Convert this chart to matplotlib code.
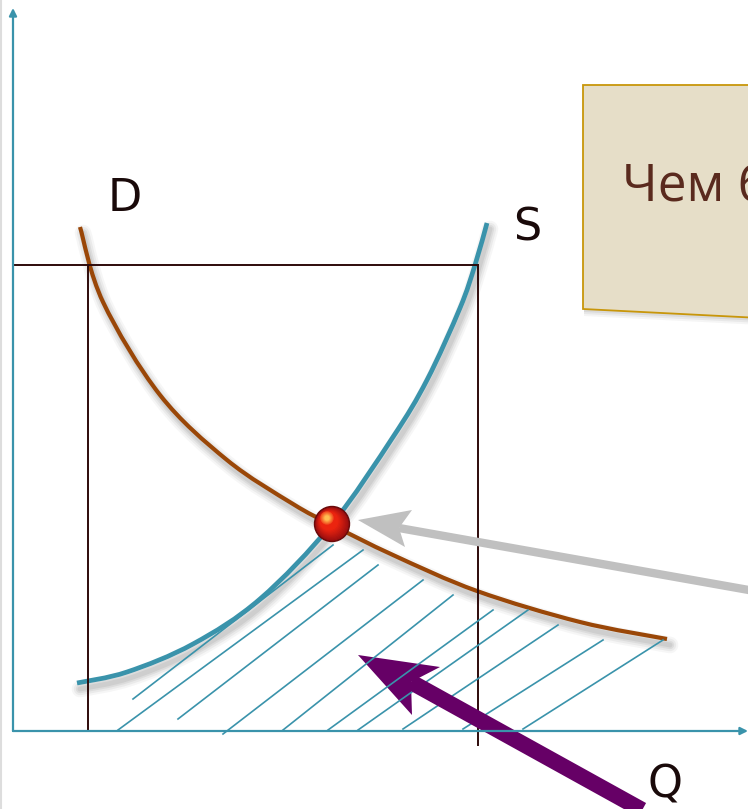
import numpy as np
import matplotlib
matplotlib.use("Agg")
import matplotlib.pyplot as plt
from matplotlib.patches import Polygon, Circle, PathPatch
from matplotlib.path import Path

# Данные (в пикселях, ось y вниз)
d_x = [80, 103, 160, 227, 293, 332, 393, 477, 580, 667]
d_y = [227, 302, 395, 460, 504, 525, 555, 591, 622, 639]

s_x = [77, 127, 193, 260, 332, 393, 427, 460, 475, 487]
s_y = [683, 672, 644, 599, 524, 437, 380, 308, 265, 223]

# штриховка: начало и конец каждой линии
hatch_x0 = [133, 118, 178, 223, 283, 328, 358, 403, 463, 523]
hatch_y0 = [699, 730, 719, 734, 730, 730, 730, 729, 729, 729]
hatch_x1 = [333, 363, 378, 423, 453, 493, 528, 558, 603, 663]
hatch_y1 = [545, 550, 565, 580, 595, 610, 610, 625, 640, 640]

equilibrium = (332, 524)
price_level = 265
q_left = 88
q_right = 478

# стрелки: острие, крыло, выемка, крыло, конец древка
gray_head = [(358, 520), (412, 510), (399, 528), (405, 547)]
gray_tail = (760, 592)
purple_head = [(358, 655), (440, 667), (411, 682), (412, 715)]
purple_tail = (700, 842)

box_x = [583, 760, 760, 583]
box_y = [85, 85, 318, 309]
box_text = "Чем б"

teal = "#3A93AB"
brown = "#9A4708"
dark = "#2E0A0A"

fig = plt.figure(figsize=(7.48, 8.09), dpi=100)
ax = fig.add_axes([0, 0, 1, 1])
ax.set_xlim(0, 748)
ax.set_ylim(809, 0)
ax.axis("off")


# гладкая кривая через точки (Catmull-Rom -> кубические Безье)
def smooth_path(x, y, dx=0, dy=0):
    p = np.column_stack([np.array(x, float) + dx, np.array(y, float) + dy])
    verts = [p[0]]
    codes = [Path.MOVETO]
    n = len(p)
    for i in range(n - 1):
        p0 = p[i - 1] if i > 0 else p[i]
        p3 = p[i + 2] if i + 2 < n else p[i + 1]
        c1 = p[i] + (p[i + 1] - p0) / 6
        c2 = p[i + 1] - (p3 - p[i]) / 6
        verts += [c1, c2, p[i + 1]]
        codes += [Path.CURVE4] * 3
    return Path(verts, codes)


def curve(x, y, color, lw):
    # тень
    for w, a in [(12, 0.05), (9, 0.07), (6, 0.09), (3.5, 0.1)]:
        ax.add_patch(PathPatch(smooth_path(x, y, 3, 6), fill=False, edgecolor="#555555",
                               lw=w, alpha=a, capstyle="round", joinstyle="round"))
    ax.add_patch(PathPatch(smooth_path(x, y), fill=False, edgecolor=color, lw=lw, capstyle="butt"))


# светлая рамка слева
ax.plot([1, 1], [0, 809], color="#dddddd", lw=1.5)

# оси
ax.annotate("", xy=(13, 8), xytext=(13, 731),
            arrowprops=dict(arrowstyle="-|>", color=teal, lw=1.6, mutation_scale=11, shrinkA=0, shrinkB=0))
ax.annotate("", xy=(748, 731), xytext=(13, 731),
            arrowprops=dict(arrowstyle="-|>", color=teal, lw=1.6, mutation_scale=11, shrinkA=0, shrinkB=0))

# линии цены и количества
ax.plot([13, q_right], [price_level, price_level], color=dark, lw=1.4)
ax.plot([q_left, q_left], [price_level, 730], color=dark, lw=1.4)
ax.plot([q_right, q_right], [price_level, 745], color=dark, lw=1.4)

# штриховка
for i in range(len(hatch_x0)):
    ax.plot([hatch_x0[i], hatch_x1[i]], [hatch_y0[i], hatch_y1[i]], color=teal, lw=1.2)

curve(s_x, s_y, teal, 3.4)
curve(d_x, d_y, brown, 3.0)

# подписи
ax.text(125, 198, "D", fontsize=32, color="#1a0a0a", ha="center", va="center")
ax.text(527, 228, "S", fontsize=32, color="#1a0a0a", ha="center", va="center")
ax.text(665, 785, "Q", fontsize=32, color="#1a0a0a", ha="center", va="center")

# точка равновесия
ex, ey = equilibrium
ax.add_patch(Circle((ex, ey), 17.5, color="#6a0a0a", zorder=5))
for k in range(10):
    t = k / 9
    r = 16 * (1 - 0.45 * t)
    ax.add_patch(Circle((ex - 3 * t, ey - 3 * t), r, color=(0.62 + 0.3 * t, 0.06 + 0.08 * t, 0.06), zorder=5))
for k in range(6):
    t = k / 5
    r = 6 * (1 - 0.7 * t)
    ax.add_patch(Circle((ex - 5, ey - 6), r, color=(0.95 + 0.05 * t, 0.3 + 0.45 * t, 0.12 + 0.2 * t), zorder=5))

# серая стрелка
ax.plot([gray_head[2][0], gray_tail[0]], [gray_head[2][1], gray_tail[1]], color="#c0c0c0", lw=6, solid_capstyle="butt")
ax.add_patch(Polygon(gray_head, closed=True, color="#c0c0c0", lw=0))

# фиолетовая стрелка
ax.plot([purple_head[2][0], purple_tail[0]], [purple_head[2][1], purple_tail[1]], color="#660066", lw=11.5, solid_capstyle="butt")
ax.add_patch(Polygon(purple_head, closed=True, color="#660066", lw=0))

# рамка с текстом
for off, a in [(7, 0.05), (5, 0.07), (3, 0.09)]:
    ax.add_patch(Polygon([(x + 1, y + off) for x, y in zip(box_x, box_y)], closed=True, color="#444444", alpha=a, lw=0))
ax.add_patch(Polygon(list(zip(box_x, box_y)), closed=True, facecolor="#E6DEC8", edgecolor="#C8960A", lw=1.3))
ax.text(622, 200, box_text, fontsize=37, color="#5A2A1E", family=["Open Sans", "DejaVu Sans"], va="baseline")

fig.savefig("out.png", dpi=100)
